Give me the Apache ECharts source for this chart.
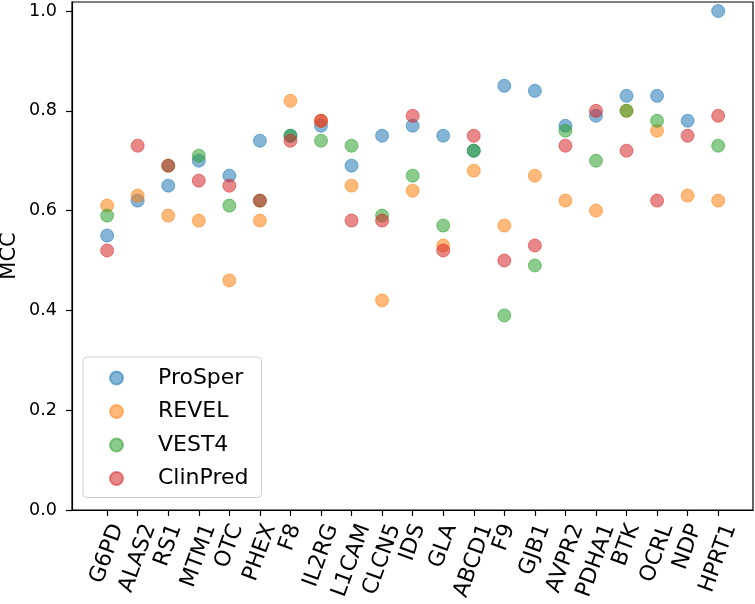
<!DOCTYPE html>
<html>
<head>
<meta charset="utf-8">
<script src="https://cdn.jsdelivr.net/npm/echarts@6/dist/echarts.min.js"></script>
<style>
  html, body { margin: 0; padding: 0; background: #fff; }
  #chart { width: 755px; height: 604px; }
</style>
</head>
<body>
<div id="chart"></div>
<script>
  const genes = ['G6PD', 'ALAS2', 'RS1', 'MTM1', 'OTC', 'PHEX', 'F8', 'IL2RG', 'L1CAM', 'CLCN5', 'IDS',
    'GLA', 'ABCD1', 'F9', 'GJB1', 'AVPR2', 'PDHA1', 'BTK', 'OCRL', 'NDP', 'HPRT1'];
  const prosper = [0.55, 0.62, 0.65, 0.70, 0.67, 0.74, 0.75, 0.77, 0.69, 0.75, 0.77,
    0.75, 0.72, 0.85, 0.84, 0.77, 0.79, 0.83, 0.83, 0.78, 1.00];
  const revel = [0.61, 0.63, 0.59, 0.58, 0.46, 0.58, 0.82, 0.78, 0.65, 0.42, 0.64,
    0.53, 0.68, 0.57, 0.67, 0.62, 0.60, 0.80, 0.76, 0.63, 0.62];
  const vest4 = [0.59, null, 0.69, 0.71, 0.61, 0.62, 0.75, 0.74, 0.73, 0.59, 0.67,
    0.57, 0.72, 0.39, 0.49, 0.76, 0.70, 0.80, 0.78, null, 0.73];
  const clinpred = [0.52, 0.73, 0.69, 0.66, 0.65, 0.62, 0.74, 0.78, 0.58, 0.58, 0.79,
    0.52, 0.75, 0.50, 0.53, 0.73, 0.80, 0.72, 0.62, 0.75, 0.79];
  const yTicks = [0, 0.2, 0.4, 0.6, 0.8, 1.0];

  const font = 'DejaVu Sans';
  const colors = ['#1f77b4', '#ff7f0e', '#2ca02c', '#d62728'];
  const xMin = -1.15;
  const xMax = 21.14;
  const gridLeft = 72;
  const gridRight = 2;

  // matplotlib centres the rotated label box on the tick; echarts anchors the text end,
  // so push each label right by half its horizontal extent
  const ctx = document.createElement('canvas').getContext('2d');
  ctx.font = '22px "DejaVu Sans"';
  const pxPerUnit = (755 - gridLeft - gridRight) / (xMax - xMin);
  const labelPos = genes.map((g, i) => {
    const w = ctx.measureText(g).width;
    return i + (w * Math.cos(70 * Math.PI / 180) / 2) / pxPerUnit;
  });

  function toPoints(arr) {
    const out = [];
    arr.forEach((v, i) => {
      if (v !== null) out.push([i, v]);
    });
    return out;
  }

  const names = ['ProSper', 'REVEL', 'VEST4', 'ClinPred'];
  const seriesData = [prosper, revel, vest4, clinpred];

  const myChart = echarts.init(document.getElementById('chart'));
  const options = {
    animation: false,
    textStyle: { fontFamily: font },
    grid: {
      left: gridLeft,
      right: gridRight,
      top: 2,
      bottom: 94,
      containLabel: false,
      outerBoundsMode: 'none',
      show: true,
      borderColor: '#000',
      borderWidth: 1.2,
    },
    legend: {
      orient: 'vertical',
      left: 83,
      top: 357,
      padding: [10, 13, 8, 26],
      itemWidth: 13,
      itemHeight: 13,
      itemGap: 11.5,
      icon: 'circle',
      borderColor: '#ccc',
      borderWidth: 1,
      borderRadius: 4,
      backgroundColor: 'rgba(255,255,255,0.8)',
      textStyle: {
        fontFamily: font,
        fontSize: 22,
        lineHeight: 22,
        color: '#000',
        padding: [0, 0, 0, 30],
      },
      data: names,
    },
    xAxis: {
      type: 'value',
      min: xMin,
      max: xMax,
      splitLine: { show: false },
      axisLine: { show: true, onZero: false, lineStyle: { color: '#000', width: 1.2 } },
      axisTick: {
        show: true,
        length: 6,
        lineStyle: { color: '#000', width: 1.2 },
        customValues: genes.map((g, i) => i),
      },
      axisLabel: {
        customValues: labelPos,
        rotate: 70,
        margin: 15,
        fontSize: 22,
        fontFamily: font,
        color: '#000',
        formatter: (v) => {
          const idx = labelPos.findIndex((p) => Math.abs(p - v) < 1e-6);
          return idx >= 0 ? genes[idx] : '';
        },
      },
    },
    yAxis: {
      type: 'value',
      min: 0,
      max: 1.018,
      name: 'MCC',
      nameLocation: 'middle',
      nameGap: 52,
      nameMoveOverlap: false,
      nameRotate: 90,
      nameTextStyle: { fontFamily: font, fontSize: 21, color: '#000' },
      splitLine: { show: false },
      axisLine: { show: true, onZero: false, lineStyle: { color: '#000', width: 1.2 } },
      axisTick: {
        show: true,
        length: 6,
        lineStyle: { color: '#000', width: 1.2 },
        customValues: yTicks,
      },
      axisLabel: {
        customValues: yTicks,
        margin: 15,
        fontSize: 17.6,
        fontFamily: font,
        color: '#000',
        formatter: (v) => v.toFixed(1),
      },
    },
    series: names.map((n, k) => ({
      name: n,
      type: 'scatter',
      data: toPoints(seriesData[k]),
      symbol: 'circle',
      symbolSize: 13,
      itemStyle: {
        color: colors[k],
        opacity: 0.55,
        borderColor: colors[k],
        borderWidth: 1,
      },
    })),
  };
  myChart.setOption(options);
</script>
</body>
</html>
